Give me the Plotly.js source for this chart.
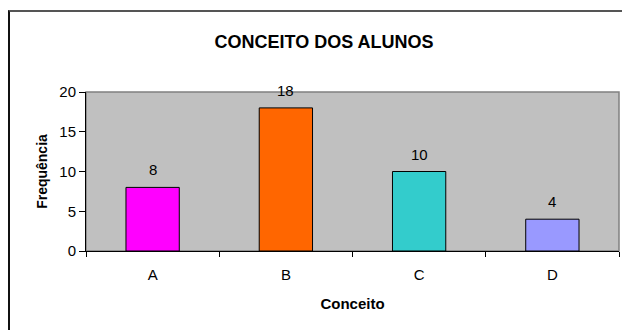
<!DOCTYPE html>
<html>
<head>
<meta charset="utf-8">
<script src="https://cdn.plot.ly/plotly-3.0.1.min.js"></script>
<style>
html,body{margin:0;padding:0;background:#fff;}
#chart{position:absolute;left:0;top:0;width:622px;height:330px;}
#frame{position:absolute;left:8px;top:10px;width:640px;height:360px;border-left:2px solid #111;border-top:2px solid #555;pointer-events:none;}
</style>
</head>
<body>
<div id="chart"></div>
<div id="frame"></div>
<script>
const categories = ["A", "B", "C", "D"];
const frequencies = [8, 18, 10, 4];
const barColors = ["#FF00FF", "#FF6600", "#33CCCC", "#9999FF"];
const yTicks = [0, 5, 10, 15, 20];

const font = "Liberation Sans, Arial, sans-serif";

const trace = {
  type: "bar",
  x: categories,
  y: frequencies,
  width: 0.4,
  marker: {color: barColors, line: {color: "#000000", width: 1}},
  hoverinfo: "skip"
};

const annotations = categories.map((c, i) => ({
  x: c, y: frequencies[i], xref: "x", yref: "y",
  text: String(frequencies[i]), showarrow: false,
  yanchor: "bottom", yshift: 7,
  font: {family: font, size: 15, color: "#000"}
}));

const layout = {
  width: 622, height: 330,
  margin: {l: 86, r: 3, t: 92, b: 79},
  paper_bgcolor: "#ffffff",
  plot_bgcolor: "#C0C0C0",
  showlegend: false,
  title: {
    text: "<b>CONCEITO DOS ALUNOS</b>",
    font: {family: font, size: 18, color: "#000"},
    x: 324/622, xanchor: "center", xref: "container",
    y: 1 - 42/330, yanchor: "middle", yref: "container"
  },
  xaxis: {
    type: "category",
    tickson: "boundaries",
    ticks: "outside", ticklen: 5, tickcolor: "#000", tickwidth: 1,
    ticklabelstandoff: 10,
    showline: true, linecolor: "#000", linewidth: 1,
    showgrid: false, zeroline: false,
    tickfont: {family: font, size: 15, color: "#000"},
    title: {text: "<b>Conceito</b>", font: {family: font, size: 15, color: "#000"}, standoff: 16}
  },
  yaxis: {
    range: [0, 20],
    tickvals: yTicks,
    ticks: "outside", ticklen: 6, tickcolor: "#000", tickwidth: 1,
    showline: true, linecolor: "#000", linewidth: 1,
    showgrid: false, zeroline: false,
    tickfont: {family: font, size: 15, color: "#000"},
    title: {text: "<b>Frequência</b>", font: {family: font, size: 14, color: "#000"}, standoff: 8}
  },
  shapes: [{
    type: "rect", xref: "paper", yref: "paper", x0: 0, x1: 1, y0: 0, y1: 1,
    line: {color: "#808080", width: 1.5}, layer: "below"
  }],
  annotations: annotations
};

Plotly.newPlot("chart", [trace], layout, {staticPlot: true, displayModeBar: false});
</script>
</body>
</html>
